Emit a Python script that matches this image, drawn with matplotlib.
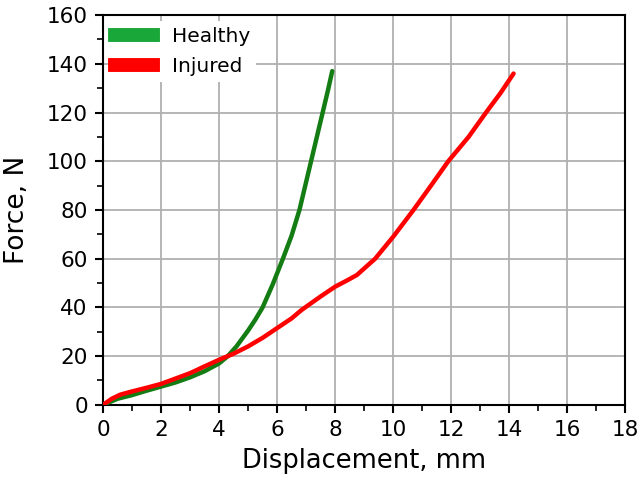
import numpy as np
import matplotlib.pyplot as plt
from matplotlib.lines import Line2D
from matplotlib.ticker import MultipleLocator

healthy_x = [0, 0.5, 1, 1.5, 2, 2.5, 3, 3.5, 4, 4.3, 4.6, 5.0, 5.25, 5.5, 5.85, 6.2, 6.5, 6.77, 7.17, 7.55, 7.75, 7.9]
healthy_y = [0, 2.5, 4, 5.8, 7.5, 9.2, 11.3, 13.8, 17, 20, 24, 30.5, 35, 40, 49.5, 60, 69.5, 80, 100, 119, 129, 137]

injured_x = [0, 0.3, 0.6, 1, 1.5, 2, 2.5, 3, 3.5, 4, 4.5, 5, 5.5, 6, 6.5, 6.85, 7.5, 8, 8.4, 8.75, 9.05, 9.38, 10, 10.7, 11.28, 11.9, 12.6, 13.2, 13.7, 14.15]
injured_y = [0, 2.5, 4.2, 5.5, 7, 8.6, 10.8, 13, 15.8, 18.5, 21, 24, 27.5, 31.5, 35.5, 39, 44.5, 48.5, 51, 53.3, 56.5, 60, 69, 80, 89.6, 100, 110, 120, 128, 136]

labels = ['Healthy', 'Injured']
line_colors = ['#137d13', '#ff0000']
legend_colors = ['#1aa73a', '#ff0000']

plt.rcParams['font.family'] = ['DejaVu Sans']

fig = plt.figure(figsize=(6.4, 4.86), dpi=100)
ax = fig.add_axes([0.161, 0.167, 0.816, 0.802])

ax.plot(healthy_x, healthy_y, color=line_colors[0], lw=3.2, solid_capstyle='round', zorder=3)
ax.plot(injured_x, injured_y, color=line_colors[1], lw=3.2, solid_capstyle='round', zorder=4)

ax.set_xlim(0, 18)
ax.set_ylim(0, 160)
ax.xaxis.set_major_locator(MultipleLocator(2))
ax.xaxis.set_minor_locator(MultipleLocator(1))
ax.yaxis.set_major_locator(MultipleLocator(20))
ax.yaxis.set_minor_locator(MultipleLocator(10))
ax.grid(True, which='major', color='#b0b0b0', lw=1.3)
ax.set_axisbelow(True)
ax.tick_params(which='major', direction='out', length=6, width=1.5, labelsize=15.5, colors='black', pad=5)
ax.tick_params(which='minor', direction='out', length=4, width=1.2)
for s in ax.spines.values():
    s.set_linewidth(1.5)

ax.set_xlabel('Displacement, mm', fontsize=18.5, labelpad=6)
ax.set_ylabel('Force, N', fontsize=19, labelpad=12)

handles = [Line2D([0], [0], color=c, lw=10) for c in legend_colors]
leg = ax.legend(handles, labels, loc='upper left', fontsize=14.5, frameon=True,
                fancybox=False, handlelength=1.9, borderaxespad=0.3, handletextpad=0.9,
                labelspacing=0.55, borderpad=0.3)
leg.get_frame().set_edgecolor('none')
leg.get_frame().set_facecolor('white')
leg.get_frame().set_alpha(1)

fig.savefig('out.png', dpi=100)
